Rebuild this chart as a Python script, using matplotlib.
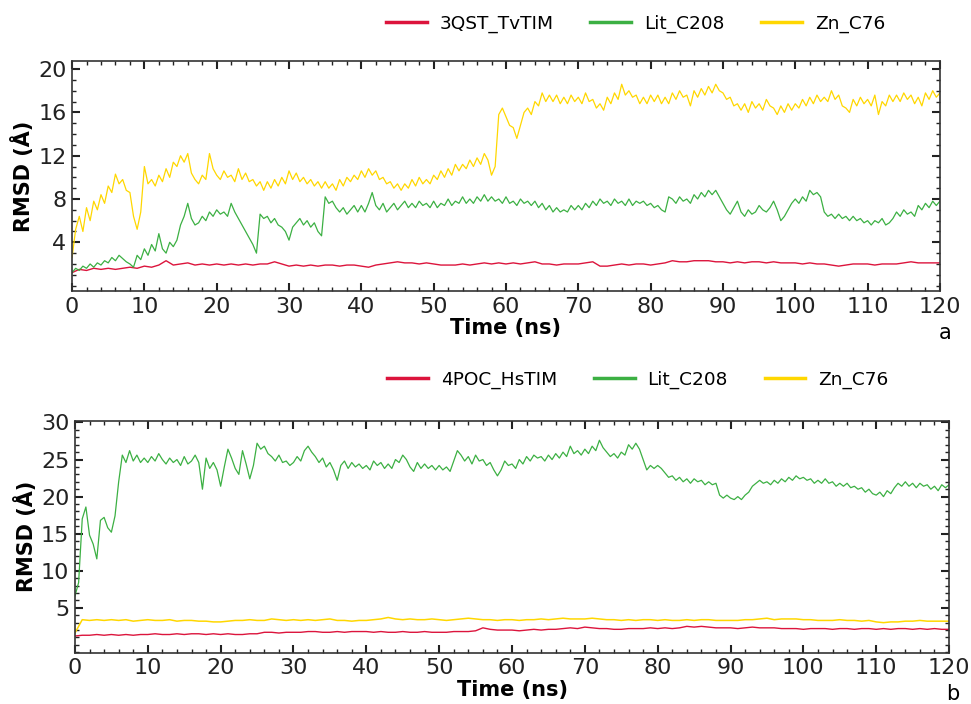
import numpy as np
import matplotlib
matplotlib.use("Agg")
import matplotlib.pyplot as plt
from matplotlib.ticker import MultipleLocator

# ---- time axes (ns) ----
t_fine = np.arange(0, 120.5, 0.5)
t_coarse = np.arange(0, 121, 1.0)

# ---- panel a: 3QST_TvTIM complexes, RMSD (Å) ----
a_tvtim = [
    1.2, 1.5, 1.4, 1.6, 1.5, 1.6, 1.5, 1.6, 1.7, 1.6,
    1.8, 1.7, 1.9, 2.3, 1.9, 2.0, 2.1, 1.9, 2.0, 1.9,
    2.0, 1.9, 2.0, 1.9, 2.0, 1.9, 2.0, 2.0, 2.2, 2.0,
    1.8, 1.9, 1.8, 1.9, 1.8, 1.9, 1.9, 1.8, 1.9, 1.9,
    1.8, 1.7, 1.9, 2.0, 2.1, 2.2, 2.1, 2.1, 2.0, 2.1,
    2.0, 1.9, 1.9, 1.9, 2.0, 1.9, 2.0, 2.1, 2.0, 2.1,
    2.0, 2.1, 2.0, 2.1, 2.2, 2.0, 2.0, 1.9, 2.0, 2.0,
    2.0, 2.1, 2.2, 1.8, 1.8, 1.9, 2.0, 1.9, 2.0, 2.0,
    1.9, 2.0, 2.1, 2.3, 2.2, 2.2, 2.3, 2.3, 2.3, 2.2,
    2.2, 2.1, 2.2, 2.1, 2.2, 2.2, 2.1, 2.2, 2.1, 2.1,
    2.1, 2.0, 2.1, 2.0, 2.0, 1.9, 1.8, 1.9, 2.0, 2.0,
    2.0, 1.9, 2.0, 2.0, 2.0, 2.1, 2.2, 2.1, 2.1, 2.1,
    2.1,
]

a_lit = [
    1.2, 1.6, 1.4, 1.8, 1.6, 2.0, 1.7, 2.1, 1.9, 2.3, 2.1, 2.6, 2.3, 2.8, 2.5, 2.2, 2.0, 1.7, 2.8, 2.4,
    3.4, 2.8, 3.8, 3.2, 4.8, 3.4, 3.0, 4.0, 3.6, 4.2, 5.6, 6.4, 7.6, 6.2, 5.6, 5.8, 6.4, 6.0, 6.8, 6.4,
    7.0, 6.6, 6.8, 6.4, 7.6, 6.8, 6.2, 5.6, 5.0, 4.4, 3.8, 3.0, 6.6, 6.2, 6.4, 5.8, 6.2, 5.6, 5.4, 5.0,
    4.2, 5.4, 5.8, 6.2, 5.6, 6.0, 5.4, 5.8, 5.0, 4.6, 8.2, 7.6, 7.8, 7.2, 6.8, 7.2, 6.6, 7.0, 7.4, 6.8,
    7.4, 6.8, 7.6, 8.6, 7.4, 7.0, 7.6, 6.8, 7.2, 7.6, 7.0, 7.4, 7.8, 7.2, 7.6, 7.2, 7.8, 7.4, 7.6, 7.2,
    7.8, 7.2, 7.6, 7.4, 8.0, 7.4, 7.8, 7.6, 8.2, 7.6, 8.0, 7.6, 8.2, 7.8, 8.4, 7.8, 8.2, 7.8, 8.0, 7.6,
    8.2, 7.6, 7.8, 7.4, 8.0, 7.6, 7.8, 7.4, 7.8, 7.2, 7.6, 7.0, 7.4, 6.8, 7.2, 6.8, 7.0, 6.8, 7.4, 7.0,
    7.4, 7.0, 7.6, 7.2, 7.8, 7.4, 8.0, 7.6, 7.8, 7.4, 8.0, 7.6, 7.8, 7.4, 8.0, 7.4, 7.8, 7.6, 7.8, 7.4,
    7.6, 7.2, 7.4, 7.0, 6.8, 8.2, 8.0, 7.6, 8.2, 7.8, 8.0, 7.6, 8.4, 8.0, 8.6, 8.2, 8.8, 8.4, 8.8, 8.2,
    7.6, 7.0, 6.6, 7.2, 7.8, 6.8, 6.4, 7.0, 6.6, 6.8, 7.4, 7.0, 6.8, 7.2, 7.8, 7.0, 6.0, 6.4, 7.0, 7.6,
    8.0, 7.6, 8.2, 7.8, 8.8, 8.4, 8.6, 8.2, 6.8, 6.4, 6.6, 6.2, 6.6, 6.2, 6.4, 6.0, 6.4, 6.0, 6.2, 5.8,
    6.0, 5.6, 6.0, 5.8, 6.2, 5.6, 5.8, 6.2, 6.8, 6.4, 7.0, 6.6, 6.8, 6.4, 7.4, 7.0, 7.6, 7.2, 7.8, 7.4,
    7.8,
]

a_zn = [
    2.6, 5.2, 6.4, 5.0, 7.2, 6.0, 7.8, 7.0, 8.4, 7.6, 9.2, 8.6, 10.3, 9.4, 9.8, 8.8, 8.6, 6.4, 5.2, 6.8,
    11.0, 9.4, 9.8, 9.2, 10.2, 9.6, 10.8, 10.0, 11.4, 11.0, 12.0, 11.4, 12.2, 10.4, 9.8, 9.4, 10.2, 9.8, 12.2, 10.8,
    10.2, 9.8, 10.6, 10.0, 10.2, 9.6, 10.8, 9.8, 10.4, 9.6, 9.8, 9.2, 9.6, 8.8, 9.6, 9.0, 9.8, 9.2, 10.0, 9.4,
    10.6, 9.8, 10.4, 9.6, 10.0, 9.4, 9.8, 9.2, 9.6, 9.0, 9.6, 9.0, 9.4, 8.8, 9.8, 9.2, 10.0, 9.6, 10.2, 9.8,
    10.6, 10.0, 10.8, 10.2, 10.6, 9.8, 10.0, 9.4, 9.6, 9.0, 9.4, 8.8, 9.4, 9.0, 9.8, 9.2, 10.0, 9.4, 9.8, 9.4,
    10.2, 9.8, 10.6, 10.0, 10.8, 10.2, 11.2, 10.6, 11.2, 10.8, 11.6, 11.0, 11.8, 11.2, 12.2, 11.6, 10.2, 11.0, 15.8, 16.4,
    15.6, 14.8, 14.6, 13.6, 14.8, 16.0, 16.4, 15.8, 17.0, 16.6, 17.8, 17.0, 17.6, 17.0, 17.6, 16.8, 17.4, 16.8, 17.6, 17.0,
    17.4, 16.8, 17.8, 17.0, 17.2, 16.4, 16.8, 16.2, 17.4, 16.8, 17.8, 17.2, 18.6, 17.6, 18.0, 17.4, 17.6, 16.8, 17.4, 16.8,
    17.6, 17.0, 17.6, 16.8, 17.4, 16.8, 17.8, 17.2, 18.0, 17.4, 17.6, 16.6, 18.0, 17.4, 18.2, 17.6, 18.4, 17.8, 18.6, 18.0,
    17.8, 17.2, 17.4, 16.6, 16.8, 16.2, 16.8, 16.0, 17.0, 16.4, 16.8, 16.2, 17.2, 16.6, 16.4, 15.8, 16.6, 16.0, 16.8, 16.2,
    16.8, 16.4, 17.2, 16.6, 17.4, 16.8, 17.6, 17.0, 17.4, 17.0, 18.0, 17.2, 17.6, 16.6, 16.4, 16.0, 17.2, 16.6, 17.4, 16.8,
    17.2, 16.6, 17.6, 15.8, 17.0, 16.6, 17.6, 17.0, 17.6, 17.0, 17.8, 17.2, 17.6, 16.8, 17.4, 16.6, 17.8, 17.2, 18.0, 17.4,
    17.8,
]

# ---- panel b: 4POC_HsTIM complexes, RMSD (Å) ----
b_hstim = [
    1.2, 1.3, 1.3, 1.4, 1.3, 1.4, 1.3, 1.4, 1.3, 1.4,
    1.4, 1.5, 1.4, 1.4, 1.5, 1.4, 1.5, 1.5, 1.4, 1.5,
    1.4, 1.5, 1.4, 1.4, 1.5, 1.5, 1.7, 1.7, 1.6, 1.7,
    1.7, 1.7, 1.8, 1.8, 1.7, 1.7, 1.8, 1.7, 1.8, 1.8,
    1.8, 1.7, 1.8, 1.7, 1.7, 1.8, 1.7, 1.7, 1.8, 1.7,
    1.7, 1.7, 1.8, 1.8, 1.8, 1.9, 2.3, 2.1, 2.0, 2.0,
    2.0, 1.9, 2.0, 2.1, 2.0, 2.1, 2.1, 2.2, 2.3, 2.2,
    2.4, 2.3, 2.2, 2.2, 2.1, 2.1, 2.2, 2.2, 2.2, 2.3,
    2.2, 2.3, 2.2, 2.3, 2.5, 2.4, 2.5, 2.4, 2.3, 2.3,
    2.3, 2.2, 2.3, 2.4, 2.3, 2.3, 2.3, 2.2, 2.2, 2.2,
    2.1, 2.2, 2.2, 2.2, 2.1, 2.2, 2.2, 2.1, 2.2, 2.2,
    2.1, 2.2, 2.1, 2.2, 2.2, 2.1, 2.2, 2.1, 2.2, 2.1,
    2.1,
]

b_lit = [
    6.6, 8.4, 17.0, 18.6, 14.8, 13.6, 11.6, 16.8, 17.2, 15.8, 15.2, 17.4, 22.0, 25.6, 24.6, 26.2, 24.8, 25.6, 24.6, 25.2,
    24.6, 25.4, 24.8, 25.8, 25.0, 24.4, 25.2, 24.6, 25.0, 24.2, 25.4, 24.4, 24.8, 25.6, 24.6, 21.0, 25.2, 23.8, 24.6, 23.6,
    21.4, 24.0, 26.4, 25.2, 23.8, 23.0, 26.2, 24.4, 22.4, 24.2, 27.2, 26.4, 26.8, 25.8, 25.4, 24.8, 25.6, 24.6, 24.8, 24.2,
    24.6, 25.4, 24.8, 26.2, 26.8, 26.0, 25.4, 24.6, 25.2, 24.0, 24.6, 23.6, 22.2, 24.2, 24.8, 23.8, 24.6, 24.0, 24.4, 23.8,
    24.2, 23.6, 24.8, 24.2, 24.6, 23.8, 24.4, 23.8, 25.0, 24.6, 25.6, 25.0, 24.0, 23.4, 24.6, 23.8, 24.4, 23.8, 24.2, 23.6,
    24.2, 23.6, 24.0, 23.4, 24.8, 26.2, 25.6, 24.8, 25.4, 24.4, 25.6, 24.8, 25.0, 24.2, 24.6, 23.6, 22.8, 23.6, 24.8, 24.2,
    24.4, 23.8, 25.0, 24.4, 25.4, 24.8, 25.6, 25.2, 25.4, 24.8, 25.6, 25.0, 25.8, 25.2, 26.0, 25.4, 26.8, 25.8, 26.2, 25.6,
    26.4, 25.8, 26.8, 26.2, 27.6, 26.6, 26.0, 25.4, 25.8, 25.2, 26.0, 25.6, 27.0, 26.4, 27.2, 26.4, 25.0, 23.6, 24.2, 23.8,
    24.2, 23.8, 23.2, 22.6, 22.8, 22.2, 22.6, 22.0, 22.4, 21.8, 22.4, 22.0, 22.2, 21.6, 22.0, 21.6, 21.8, 20.2, 19.8, 20.2,
    19.8, 19.6, 20.0, 19.6, 20.2, 20.6, 21.4, 21.8, 22.2, 21.8, 22.0, 21.6, 22.2, 21.8, 22.4, 22.0, 22.6, 22.2, 22.8, 22.4,
    22.6, 22.2, 22.4, 21.8, 22.2, 21.8, 22.4, 21.8, 22.0, 21.4, 21.8, 21.4, 21.8, 21.2, 21.4, 21.0, 21.2, 20.6, 21.0, 20.4,
    20.2, 20.6, 20.0, 20.8, 20.4, 21.2, 21.8, 21.4, 22.0, 21.4, 21.8, 21.2, 21.8, 21.4, 21.6, 21.0, 21.4, 20.8, 21.6, 21.2,
    21.6,
]

b_zn = [
    1.6, 3.4, 3.3, 3.4, 3.3, 3.4, 3.3, 3.4, 3.2, 3.3,
    3.4, 3.3, 3.3, 3.4, 3.2, 3.3, 3.3, 3.2, 3.2, 3.1,
    3.1, 3.2, 3.3, 3.3, 3.4, 3.3, 3.3, 3.5, 3.4, 3.3,
    3.4, 3.3, 3.4, 3.3, 3.4, 3.5, 3.3, 3.3, 3.2, 3.3,
    3.3, 3.4, 3.5, 3.7, 3.5, 3.4, 3.5, 3.4, 3.4, 3.5,
    3.4, 3.3, 3.4, 3.5, 3.6, 3.5, 3.4, 3.4, 3.3, 3.4,
    3.4, 3.3, 3.4, 3.4, 3.5, 3.4, 3.5, 3.6, 3.5, 3.5,
    3.5, 3.6, 3.5, 3.4, 3.4, 3.3, 3.4, 3.3, 3.4, 3.4,
    3.3, 3.4, 3.3, 3.3, 3.4, 3.3, 3.4, 3.4, 3.3, 3.3,
    3.3, 3.3, 3.4, 3.4, 3.5, 3.6, 3.4, 3.5, 3.5, 3.5,
    3.4, 3.4, 3.3, 3.3, 3.3, 3.4, 3.3, 3.3, 3.2, 3.3,
    3.1, 3.0, 3.1, 3.1, 3.2, 3.2, 3.3, 3.2, 3.2, 3.2,
    3.2,
]

xticks = list(range(0, 121, 10))
yticks_a = [4, 8, 12, 16, 20]
yticks_b = [5, 10, 15, 20, 25, 30]

RED = "#dc143c"
GREEN = "#3cb043"
GOLD = "#ffd700"

plt.rcParams["font.family"] = ["DejaVu Sans"]

fig = plt.figure(figsize=(9.71, 7.04), dpi=100)
ax_a = fig.add_axes([0.0742, 0.5866, 0.8938, 0.3268])
ax_b = fig.add_axes([0.0772, 0.0729, 0.9002, 0.3291])


def style_axis(ax, yticks, ylim):
    ax.set_xlim(0, 120)
    ax.set_ylim(*ylim)
    ax.set_xticks(xticks)
    ax.set_yticks(yticks)
    ax.xaxis.set_minor_locator(MultipleLocator(2))
    ax.yaxis.set_minor_locator(MultipleLocator(1))
    ax.tick_params(which="both", direction="in", top=True, right=True,
                   labelsize=16, colors="#222222", pad=4)
    ax.tick_params(which="major", length=6, width=1.5)
    ax.tick_params(which="minor", length=3, width=1.0)
    for sp in ax.spines.values():
        sp.set_linewidth(1.2)
        sp.set_color("#333333")
    ax.set_xlabel("Time (ns)", fontsize=15, fontweight="bold", labelpad=1)
    ax.set_ylabel("RMSD (Å)", fontsize=15, fontweight="bold", labelpad=3)


ha1, = ax_a.plot(t_coarse, a_tvtim, color=RED, lw=1.0, label="3QST_TvTIM")
ha2, = ax_a.plot(t_fine, a_lit, color=GREEN, lw=0.9, label="Lit_C208")
ha3, = ax_a.plot(t_fine, a_zn, color=GOLD, lw=0.9, label="Zn_C76")
style_axis(ax_a, yticks_a, (-0.5, 20.75))

hb1, = ax_b.plot(t_coarse, b_hstim, color=RED, lw=1.0, label="4POC_HsTIM")
hb2, = ax_b.plot(t_fine, b_lit, color=GREEN, lw=0.9, label="Lit_C208")
hb3, = ax_b.plot(t_coarse, b_zn, color=GOLD, lw=1.1, label="Zn_C76")
style_axis(ax_b, yticks_b, (-1.05, 30.2))

leg_kw = dict(loc="center", ncol=3, frameon=False, fontsize=13.3,
              handlelength=2.2, handletextpad=0.7, columnspacing=2.0)
la = fig.legend(handles=[ha1, ha2, ha3], bbox_to_anchor=(0.6545, 1 - 24 / 704), **leg_kw)
lb = fig.legend(handles=[hb1, hb2, hb3], bbox_to_anchor=(0.657, 1 - 380 / 704), **leg_kw)
for leg in (la, lb):
    for h in leg.legend_handles:
        h.set_linewidth(2.5)

fig.text(945 / 971, 1 - 333 / 704, "a", fontsize=15, ha="center", va="center")
fig.text(953 / 971, 1 - 694 / 704, "b", fontsize=15, ha="center", va="center")

fig.savefig("out.png", dpi=100)
